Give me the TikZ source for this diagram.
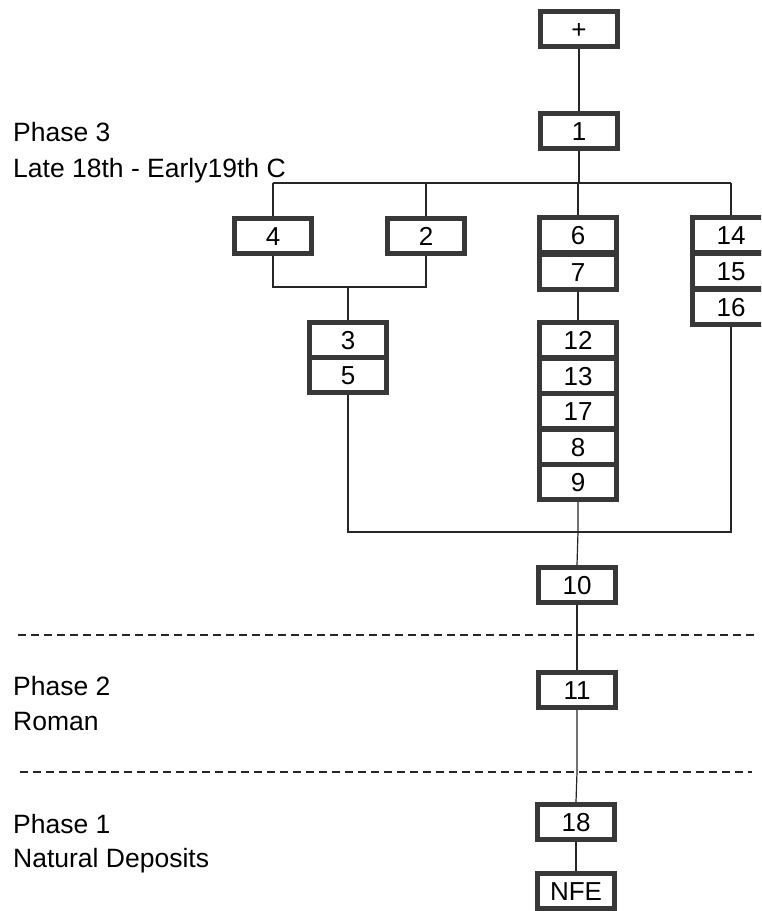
\documentclass[tikz,border=0pt]{standalone}
\usepackage{fontspec}
\setmainfont{Liberation Sans}
\begin{document}
\begin{tikzpicture}[x=1pt,y=-1pt,
  ctx/.style={draw=black!78,line width=5pt,fill=white,minimum width=77pt,
    minimum height=35pt,inner sep=0pt,font=\fontsize{26}{30}\selectfont,
    text height=19pt,text depth=0pt},
  link/.style={draw=black!85,line width=1.2pt},
  phase/.style={draw=black!85,line width=1.3pt,dash pattern=on 8pt off 5pt},
  lbl/.style={anchor=base west,inner sep=0pt,font=\fontsize{26.5}{30}\selectfont}]
\useasboundingbox (0,0) rectangle (761,911);
\clip (0,0) rectangle (761,911);

% phase boundaries
\coordinate (d1a) at (18,635);  \coordinate (d1b) at (755,635);
\coordinate (d2a) at (20,772);  \coordinate (d2b) at (752,772);
\draw[phase] (d1a) -- (d1b);
\draw[phase] (d2a) -- (d2b);

% phase labels
\node[lbl] (p3) at (13,141) {Phase 3};
\node[lbl] (p3t) at (13,177) {Late 18th - Early19th C};
\node[lbl] (p2) at (13,695) {Phase 2};
\node[lbl] (p2t) at (13,730) {Roman};
\node[lbl] (p1) at (13,833) {Phase 1};
\node[lbl] (p1t) at (13,867) {Natural Deposits};

% junction heights
\coordinate (busy) at (0,183);
\coordinate (j42) at (0,287);
\coordinate (jlow) at (0,532);

% contexts
\node[ctx] (top) at (579,29) {+};
\node[ctx] (c1) at (579,131) {1};
\node[ctx] (c4) at (273,236) {4};
\node[ctx] (c2) at (426,236) {2};
\node[ctx] (c6) at (578,235) {6};
\node[ctx] (c7) at (578,271.5) {7};
\node[ctx] (c14) at (731,235) {14};
\node[ctx] (c15) at (731,271) {15};
\node[ctx] (c16) at (731,307) {16};
\node[ctx] (c3) at (348,340) {3};
\node[ctx] (c5) at (348,375) {5};
\node[ctx] (c12) at (578,340) {12};
\node[ctx] (c13) at (578,375.5) {13};
\node[ctx] (c17) at (578,411) {17};
\node[ctx] (c8) at (578,446.5) {8};
\node[ctx] (c9) at (578,482) {9};
\node[ctx] (c10) at (577,585) {10};
\node[ctx] (c11) at (577,690) {11};
\node[ctx] (c18) at (576,822) {18};
\node[ctx] (nfe) at (576,891) {NFE};

% stratigraphic links
\draw[link] (top) -- (c1);
\draw[link] (c1.south) -- (c1.south |- busy);
\draw[link] (c4.north |- busy) -- (c14.north |- busy);
\draw[link] (c4.north |- busy) -- (c4.north);
\draw[link] (c2.north |- busy) -- (c2.north);
\draw[link] (c6.north |- busy) -- (c6.north);
\draw[link] (c14.north |- busy) -- (c14.north);
\draw[link] (c4.south) -- (c4.south |- j42) -- (c2.south |- j42) -- (c2.south);
\draw[link] (c3.north |- j42) -- (c3.north);
\draw[link] (c7) -- (c12);
\draw[link] (c5.south) -- (c5.south |- jlow) -- (c16.south |- jlow) -- (c16.south);
\draw[link] (c9.south) -- (c9.south |- jlow) -- (c10.north);
\draw[link] (c10) -- (c11);
\draw[link] (c11.south) -- (c11.south |- d2a) -- (c18.north);
\draw[link] (c18) -- (nfe);
\end{tikzpicture}
\end{document}
